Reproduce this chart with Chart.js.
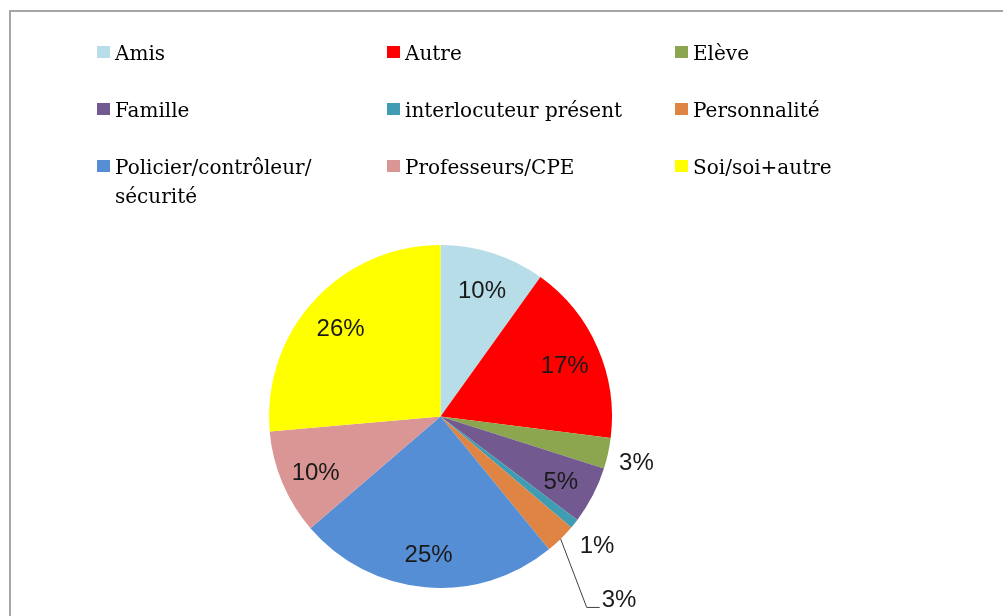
<!DOCTYPE html>
<html lang="fr">
<head>
    <meta charset="UTF-8">
    <title>Répartition</title>
    <script src="https://cdn.jsdelivr.net/npm/chart.js"></script>
    <style>
        body {
            margin: 0;
            background-color: white;
            overflow: hidden;
        }
        #wrap {
            position: relative;
            width: 1003px;
            height: 616px;
            overflow: hidden;
        }
        #pieChart {
            position: absolute;
            left: 0;
            top: 0;
        }
        .legendItem {
            position: absolute;
            font-family: "DejaVu Serif", serif;
            font-size: 20px;
            line-height: 29px;
            color: #000;
            white-space: nowrap;
        }
        .legendItem .box {
            position: absolute;
            left: 0;
            top: 7px;
            width: 13px;
            height: 12px;
        }
        .legendItem .txt {
            display: block;
            margin-left: 18px;
        }
    </style>
</head>
<body>
<div id="wrap">
    <canvas id="pieChart" width="1003" height="616"></canvas>
    <div id="legend"></div>
</div>

<script>
    // categories and shares (%)
    const categories = [
        'Amis', 'Autre', 'Elève',
        'Famille', 'interlocuteur présent', 'Personnalité',
        ['Policier/contrôleur/', 'sécurité'], 'Professeurs/CPE', 'Soi/soi+autre'
    ];
    const shares = [9.9, 17.1, 2.9, 5.4, 0.9, 2.9, 24.6, 9.9, 26.4];
    const sliceColors = [
        '#b7dde8', '#ff0000', '#8ba64f',
        '#72598f', '#3f9cb2', '#df8442',
        '#558ed5', '#d99694', '#ffff00'
    ];
    // where each percentage label goes: inside, outside, outside with a leader line
    const labelPlacement = ['in', 'in', 'out', 'in', 'out', 'leader', 'in', 'in', 'in'];

    // legend grid (3 columns)
    const legendCols = [97, 387, 675];
    const legendRows = [39, 96, 153];

    // the chart frame: only its top and left edges are in the picture
    const frame = {
        id: 'frame',
        beforeDraw(chart) {
            const ctx = chart.ctx;
            ctx.save();
            ctx.fillStyle = '#a6a6a6';
            ctx.fillRect(9, 10, 2, chart.height - 10);
            ctx.fillRect(9, 10, chart.width - 9, 2);
            ctx.restore();
        }
    };

    const sliceLabels = {
        id: 'sliceLabels',
        afterDatasetsDraw(chart) {
            const ctx = chart.ctx;
            const meta = chart.getDatasetMeta(0);
            ctx.save();
            ctx.font = '24px "Liberation Sans", Arial, sans-serif';
            ctx.fillStyle = '#1a1a1a';
            ctx.textBaseline = 'middle';
            meta.data.forEach((arc, i) => {
                const mid = (arc.startAngle + arc.endAngle) / 2;
                const r = arc.outerRadius;
                const text = Math.round(shares[i]) + '%';
                const place = labelPlacement[i];
                let f = 0.79;
                if (place === 'out') f = 1.17;
                if (place === 'leader') f = 1.47;
                const x = arc.x + Math.cos(mid) * r * f;
                const y = arc.y + Math.sin(mid) * r * f + 4;
                if (place === 'leader') {
                    const w = ctx.measureText(text).width;
                    const left = x - w / 2 + 2;
                    ctx.strokeStyle = '#404040';
                    ctx.lineWidth = 1;
                    ctx.beginPath();
                    ctx.moveTo(arc.x + Math.cos(mid) * r, arc.y + Math.sin(mid) * r);
                    ctx.lineTo(left - 15, y + 7);
                    ctx.lineTo(left - 2, y + 7);
                    ctx.stroke();
                }
                ctx.textAlign = 'center';
                ctx.fillText(text, x + (place === 'leader' ? 2 : 0), y);
            });
            ctx.restore();
        }
    };

    const pieChart = new Chart(document.getElementById('pieChart').getContext('2d'), {
        type: 'pie',
        data: {
            labels: categories,
            datasets: [{
                data: shares,
                backgroundColor: sliceColors,
                borderWidth: 0,
                hoverOffset: 0,
                offset: 0
            }]
        },
        options: {
            responsive: false,
            animation: false,
            layout: { padding: { top: 245, bottom: 28, left: 100, right: 222 } },
            plugins: {
                legend: { display: false },
                tooltip: { enabled: false }
            }
        },
        plugins: [frame, sliceLabels]
    });

    // HTML legend built from the chart's own legend items
    const legendBox = document.getElementById('legend');
    const items = pieChart.options.plugins.legend.labels.generateLabels(pieChart);
    items.forEach((item, i) => {
        const div = document.createElement('div');
        div.className = 'legendItem';
        div.style.left = legendCols[i % 3] + 'px';
        div.style.top = legendRows[Math.floor(i / 3)] + 'px';
        const box = document.createElement('span');
        box.className = 'box';
        box.style.backgroundColor = item.fillStyle;
        const txt = document.createElement('span');
        txt.className = 'txt';
        const lab = Array.isArray(item.text) ? item.text : [item.text];
        txt.innerHTML = lab.join('<br>');
        div.appendChild(box);
        div.appendChild(txt);
        legendBox.appendChild(div);
    });
</script>
</body>
</html>
